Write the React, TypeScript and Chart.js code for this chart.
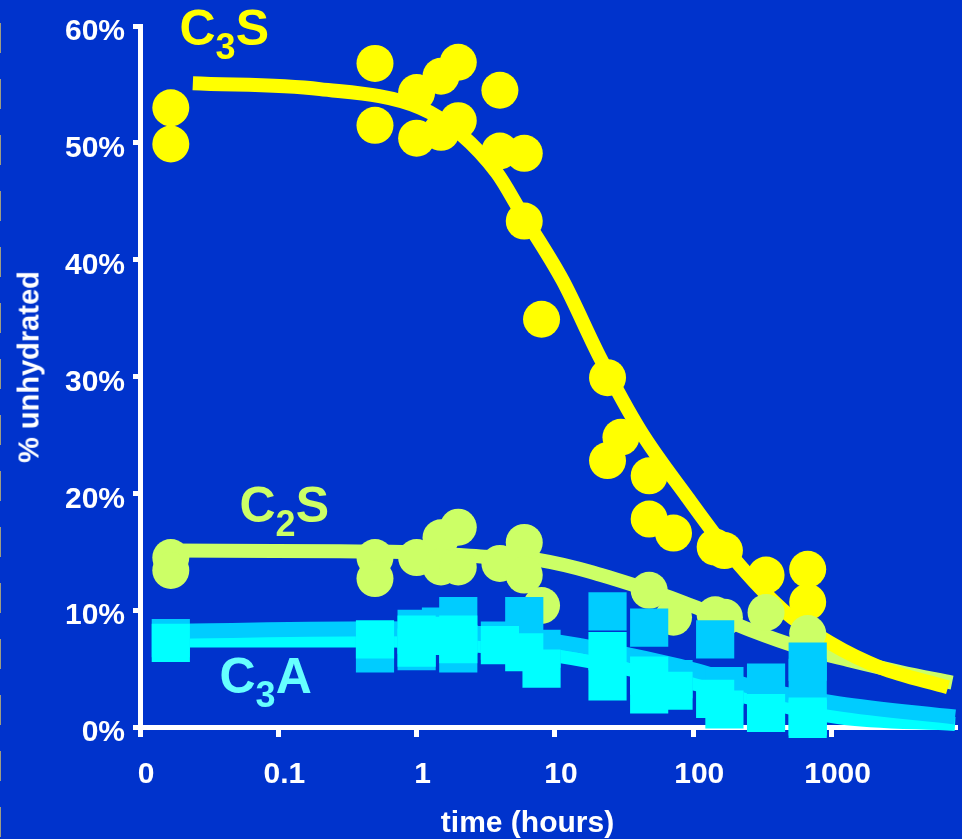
import React, { useEffect, useRef } from "react";
import { Chart, registerables } from "chart.js";

Chart.register(...registerables);

const BG = "#0033CC";
const FONT = '"Liberation Sans", Arial, Helvetica, sans-serif';

const C3S_COLOR = "#FFFF00";
const C2S_COLOR = "#CCFF66";
const C3A_DARK = "#00CCFF";
const C3A_LIGHT = "#00FFFF";

// Time axis (hours, logarithmic). The first decade is labelled "0".
const xTickValues = [0.01, 0.1, 1, 10, 100, 1000];
const xTickLabels = ["0", "0.1", "1", "10", "100", "1000"];

// Percent unhydrated axis
const yMin = 0;
const yMax = 60;
const yStep = 10;

// C3S measurements
const c3sHours = [0.0167, 0.0167, 0.5, 0.5, 1, 1, 1.5, 1.5, 2, 2, 4, 4, 6, 6, 8, 24, 24, 30, 48, 48, 72, 144, 168, 336, 672, 672];
const c3sPct = [53.0, 49.9, 56.8, 51.5, 54.3, 50.4, 55.7, 50.9, 56.9, 51.9, 54.5, 49.3, 49.1, 43.3, 34.9, 29.9, 22.8, 24.8, 21.5, 17.8, 16.6, 15.4, 15.1, 13.0, 13.5, 10.7];

// C3S fitted curve
const c3sFitHours = [0.0241, 0.2, 1.06, 2.06, 3.82, 5.59, 11.4, 21.2, 41.2, 90.2, 194, 446, 975, 2243, 6954];
const c3sFitPct = [55.1, 54.6, 53.0, 50.8, 47.4, 44.2, 38.2, 31.6, 25.4, 19.7, 14.5, 10.0, 7.2, 5.1, 3.4];

// C2S measurements
const c2sHours = [0.0167, 0.0167, 0.5, 0.5, 1, 1.5, 1.5, 2, 2, 4, 6, 6, 8, 48, 72, 144, 168, 336, 672];
const c2sPct = [14.5, 13.4, 14.5, 12.7, 14.5, 16.2, 13.7, 17.1, 13.7, 14.0, 15.8, 13.0, 10.4, 11.7, 9.4, 9.6, 9.4, 9.8, 8.0];

// C2S fitted curve
const c2sFitHours = [0.0167, 0.64, 2.9, 7.6, 48.7, 112, 258, 592, 1361, 3129, 7436];
const c2sFitPct = [15.1, 15.0, 14.6, 14.3, 11.7, 10.1, 8.3, 6.8, 5.7, 4.7, 3.8];

// C3A measurements, first set
const c3aDarkHours = [0.0167, 0.5, 1, 1, 1.5, 2, 2, 4, 6, 8, 24, 48, 72, 144, 168, 336, 672, 672];
const c3aDarkPct = [7.6, 6.3, 8.4, 6.5, 8.6, 9.5, 6.3, 7.4, 9.5, 6.7, 9.9, 8.5, 4.1, 7.5, 3.5, 3.8, 5.6, 4.2];

// C3A measurements, second set
const c3aLightHours = [0.0167, 0.5, 1, 1, 1.5, 2, 2, 4, 6, 8, 24, 24, 48, 48, 72, 144, 168, 336, 672, 672];
const c3aLightPct = [7.2, 7.5, 7.9, 6.8, 7.8, 7.9, 7.1, 7.0, 6.4, 5.0, 6.5, 3.9, 4.4, 2.8, 3.1, 2.4, 1.5, 1.2, 0.9, 0.7];

// C3A fitted curves
const c3aDarkFitHours = [0.0167, 0.64, 2.9, 9.2, 80, 320, 1114, 7816];
const c3aDarkFitPct = [8.2, 8.4, 8.0, 7.4, 5.2, 3.2, 2.0, 0.85];
const c3aLightFitHours = [0.0167, 0.64, 9.2, 80, 237, 1114, 7816];
const c3aLightFitPct = [7.4, 7.4, 6.2, 4.0, 2.6, 0.85, 0.26];

const toPoints = (xs: number[], ys: number[]) => xs.map((x, i) => ({ x, y: ys[i] }));

const markerSet = (pts: { x: number; y: number }[], color: string, style: string, radius: number, order: number) => ({
  data: pts,
  showLine: false,
  pointStyle: style,
  pointRadius: radius,
  pointHoverRadius: radius,
  pointBorderWidth: 0,
  backgroundColor: color,
  borderColor: color,
  order,
  clip: false as const,
});

const curveSet = (pts: { x: number; y: number }[], color: string, width: number, order: number) => ({
  data: pts,
  showLine: true,
  pointRadius: 0,
  pointHoverRadius: 0,
  borderColor: color,
  backgroundColor: color,
  borderWidth: width,
  borderCapStyle: "butt" as const,
  cubicInterpolationMode: "monotone" as const,
  fill: false,
  order,
  clip: false as const,
});

function SeriesLabel(props: { left: number; baseline: number; color: string; main: string; sub: string; tail: string }) {
  const size = 50;
  return (
    <div
      style={{
        position: "absolute",
        left: props.left,
        top: props.baseline - 0.8465 * size,
        fontFamily: FONT,
        fontWeight: "bold",
        fontSize: size,
        lineHeight: `${size}px`,
        color: props.color,
        whiteSpace: "nowrap",
        pointerEvents: "none",
      }}
    >
      {props.main}
      <span style={{ fontSize: 36, lineHeight: "36px", position: "relative", top: 14 }}>{props.sub}</span>
      {props.tail}
    </div>
  );
}

export default function App() {
  const canvasRef = useRef<HTMLCanvasElement | null>(null);

  useEffect(() => {
    const canvas = canvasRef.current;
    if (!canvas) return;
    const tickFont = { family: FONT, size: 30, weight: "bold" as const };

    const chart = new Chart(canvas, {
      type: "scatter",
      data: {
        datasets: [
          markerSet(toPoints(c3aLightHours, c3aLightPct), C3A_LIGHT, "rect", 27, 0),
          markerSet(toPoints(c3aDarkHours, c3aDarkPct), C3A_DARK, "rect", 27, 1),
          markerSet(toPoints(c2sHours, c2sPct), C2S_COLOR, "circle", 18.5, 2),
          markerSet(toPoints(c3sHours, c3sPct), C3S_COLOR, "circle", 18.5, 3),
          curveSet(toPoints(c3sFitHours, c3sFitPct), C3S_COLOR, 14, 4),
          curveSet(toPoints(c2sFitHours, c2sFitPct), C2S_COLOR, 14, 5),
          curveSet(toPoints(c3aDarkFitHours, c3aDarkFitPct), C3A_DARK, 15, 6),
          curveSet(toPoints(c3aLightFitHours, c3aLightFitPct), C3A_LIGHT, 14, 7),
        ] as any,
      },
      options: {
        responsive: false,
        maintainAspectRatio: false,
        animation: false,
        events: [],
        layout: { autoPadding: false, padding: { top: 25, right: 5, bottom: 0, left: 0 } },
        plugins: {
          legend: { display: false },
          tooltip: { enabled: false },
        },
        scales: {
          x: {
            type: "logarithmic",
            min: 0.01,
            max: 8070,
            afterBuildTicks: (scale: any) => {
              scale.ticks = xTickValues.map((v) => ({ value: v }));
            },
            afterFit: (scale: any) => {
              scale.height = 112;
            },
            ticks: {
              color: "#FFFFFF",
              font: tickFont,
              padding: 20,
              labelOffset: 6,
              maxRotation: 0,
              autoSkip: false,
              callback: (value: any) => {
                const i = xTickValues.indexOf(Number(value));
                return i >= 0 ? xTickLabels[i] : "";
              },
            },
            grid: {
              display: true,
              drawOnChartArea: false,
              drawTicks: true,
              tickLength: 10,
              tickWidth: 5,
              tickColor: "#FFFFFF",
              color: "#FFFFFF",
              lineWidth: 1,
            },
            border: { display: true, color: "#FFFFFF", width: 5 },
          },
          y: {
            type: "linear",
            min: yMin,
            max: yMax,
            afterFit: (scale: any) => {
              scale.width = 140;
            },
            ticks: {
              stepSize: yStep,
              color: "#FFFFFF",
              font: tickFont,
              padding: 8,
              labelOffset: 6,
              callback: (value: any) => `${value}%`,
            },
            grid: {
              display: true,
              drawOnChartArea: false,
              drawTicks: true,
              tickLength: 7,
              tickWidth: 5,
              tickColor: "#FFFFFF",
              color: "#FFFFFF",
              lineWidth: 1,
            },
            border: { display: true, color: "#FFFFFF", width: 5 },
          },
        },
      } as any,
    });

    return () => chart.destroy();
  }, []);

  return (
    <div
      style={{
        position: "fixed",
        left: 0,
        top: 0,
        width: 962,
        height: 839,
        background: BG,
        overflow: "hidden",
      }}
    >
      <div
        style={{
          position: "absolute",
          left: 0,
          top: 0,
          width: 1,
          height: 839,
          backgroundImage: "linear-gradient(to bottom, #9c9c84 0px, #9c9c84 30px, transparent 30px)",
          backgroundSize: "1px 56px",
          backgroundRepeat: "repeat-y",
          backgroundPosition: "0 23px",
        }}
      />
      <canvas ref={canvasRef} width={962} height={839} style={{ position: "absolute", left: 0, top: 0 }} />
      <SeriesLabel left={179.5} baseline={45} color="#FFFF00" main="C" sub="3" tail="S" />
      <SeriesLabel left={239.5} baseline={522} color="#CCFF66" main="C" sub="2" tail="S" />
      <SeriesLabel left={219.5} baseline={693} color="#66FFFF" main="C" sub="3" tail="A" />
      <div
        style={{
          position: "absolute",
          left: 29,
          top: 367,
          transform: "translate(-50%, -50%) rotate(-90deg)",
          fontFamily: FONT,
          fontWeight: "bold",
          fontSize: 29,
          lineHeight: "29px",
          color: "#FFFFFF",
          whiteSpace: "nowrap",
        }}
      >
        % unhydrated
      </div>
      <div
        style={{
          position: "absolute",
          left: 527.5,
          top: 832 - 0.8465 * 30,
          transform: "translateX(-50%)",
          fontFamily: FONT,
          fontWeight: "bold",
          fontSize: 30,
          lineHeight: "30px",
          color: "#FFFFFF",
          whiteSpace: "nowrap",
        }}
      >
        time (hours)
      </div>
    </div>
  );
}
